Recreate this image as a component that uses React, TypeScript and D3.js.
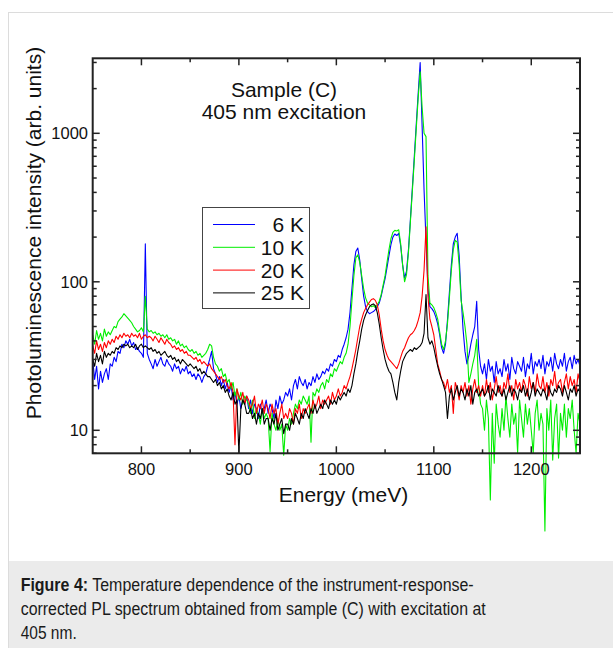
import * as d3 from 'd3'

// energy grid (meV), 2 meV steps
const energies = d3.range(750, 1251, 2)

// PL intensity, one value per energy point
const blue6K = [
  30, 22, 27, 19, 25, 21, 24, 26, 22, 28,
  27, 31, 29, 34, 33, 38, 36, 40, 38, 41,
  37, 39, 35, 36, 34, 33, 31, 180, 33, 30,
  28, 26, 30, 27, 29, 31, 28, 27, 30, 28,
  27, 25, 28, 26, 27, 24, 26, 25, 27, 24,
  25, 23, 24, 22, 24, 23, 21, 23, 24, 27,
  30, 34, 26, 24, 21, 23, 20, 22, 19, 21,
  18, 20, 16, 18, 15, 17, 14, 16, 15, 17,
  14, 16, 13, 15, 14, 12, 15, 13, 14, 16,
  13, 15, 14, 12, 16, 14, 17, 15, 16, 18,
  17, 19, 16, 20, 22, 19, 23, 21, 20, 22,
  19, 21, 20, 23, 21, 24, 22, 23, 25, 24,
  26, 25, 28, 27, 30, 29, 32, 31, 35, 38,
  42, 48, 62, 90, 130, 160, 169, 140, 105, 80,
  68, 63, 61, 62, 63, 65, 68, 72, 80, 92,
  105, 125, 150, 178, 200, 210, 205, 212, 175, 130,
  106, 118, 165, 265, 430, 700, 1150, 1870, 3000, 1120,
  415, 190, 90, 68, 66, 63, 58, 52, 44, 36,
  33, 38, 55, 85, 130, 180, 200, 212, 150, 80,
  48, 34, 28, 32, 38, 44, 50, 74, 35, 27,
  24, 28, 22, 30, 25, 27, 21, 29, 24, 26,
  23, 30, 25, 28, 22, 31, 26, 24, 29, 27,
  25, 31, 23, 28, 26, 33, 24, 29, 27, 30,
  26, 32, 24, 29, 27, 31, 25, 33, 28, 26,
  30, 27, 33, 25, 29, 31, 26, 32, 28, 30,
  27,
]

const green10K = [
  44, 38, 47, 41, 45, 40, 48, 43, 46, 44,
  47, 50, 49, 54, 56, 58, 61, 59, 57, 55,
  53, 50, 48, 46, 47, 49, 46, 80, 48, 46,
  47, 45, 46, 44, 45, 43, 44, 42, 44, 41,
  42, 40, 41, 38, 40, 37, 38, 36, 37, 35,
  34, 35, 33, 34, 32, 33, 31, 32, 33, 35,
  38, 37, 31, 28, 27, 25, 26, 23, 24, 21,
  22, 19, 21, 17, 19, 16, 18, 15, 17, 16,
  15, 13, 16, 12, 14, 13, 11, 14, 12, 13,
  12, 7.2, 13, 11, 10, 12, 10, 11, 6.8, 11,
  10, 12, 11, 13, 15, 14, 16, 15, 17, 16,
  15, 17, 8.3, 18, 17, 19, 18, 20, 21, 19,
  22, 21, 24, 23, 26, 25, 27, 29, 28, 31,
  33, 38, 50, 75, 110, 145, 152, 135, 110, 90,
  78, 72, 70, 68, 69, 67, 70, 74, 82, 95,
  110, 135, 165, 195, 215, 222, 220, 224, 180, 130,
  100, 112, 158, 255, 410, 660, 1080, 1750, 2600, 1500,
  1000, 950, 110, 72, 70, 67, 62, 56, 46, 38,
  35, 40, 52, 78, 120, 165, 190, 185, 130, 75,
  62, 50, 38, 21, 24, 28, 32, 41, 20, 15,
  14, 10, 16, 12, 3.4, 13, 6, 15, 11, 9,
  14, 10, 17, 12, 9, 15, 11, 13, 7.1, 16,
  12, 9, 15, 11, 14, 10, 7, 13, 16, 10,
  13, 11, 2.1, 14, 10, 16, 6.3, 12, 15, 6.5,
  13, 10, 15, 9, 14, 12, 16, 10, 7, 13,
  11,
]

const red20K = [
  37, 33, 40, 35, 38, 34, 39, 36, 40, 38,
  41, 39, 43, 41, 44, 42, 45, 43, 44, 42,
  45, 43, 44, 42, 45, 41, 43, 44, 42, 43,
  42, 40, 43, 41, 39, 42, 40, 38, 41, 39,
  38, 36, 37, 35, 36, 34, 35, 33, 34, 32,
  32, 31, 30, 31, 29, 30, 28, 29, 28, 27,
  28, 26, 25, 24, 23, 22, 23, 21, 22, 20,
  19, 21, 18, 8, 19, 17, 16, 18, 15, 17,
  16, 14, 15, 17, 13, 15, 14, 16, 13, 15,
  14, 12, 15, 13, 14, 11, 13, 15, 12, 13,
  12, 14, 13, 11, 14, 13, 15, 12, 14, 13,
  14, 15, 13, 16, 14, 15, 17, 14, 16, 15,
  16, 17, 15, 18, 16, 17, 19, 17, 18, 20,
  19, 21, 23, 26, 30, 35, 42, 50, 56, 62,
  66, 70, 73, 76, 77, 75, 70, 60, 48, 40,
  35, 32, 30, 29, 28, 27, 26, 28, 31, 34,
  36, 39, 42, 44, 45, 47, 50, 55, 62, 80,
  120, 235, 80, 56, 50, 44, 35, 28, 25, 22,
  21, 19, 22, 18, 20, 13, 21, 19, 16, 20,
  18, 21, 17, 20, 15, 19, 22, 18, 20, 17,
  20, 17, 22, 18, 21, 16, 19, 23, 18, 20,
  17, 21, 19, 24, 18, 20, 16, 22, 19, 21,
  18, 22, 20, 17, 23, 19, 21, 18, 24, 20,
  19, 23, 18, 21, 17, 22, 20, 25, 19, 21,
  22, 18, 21, 24, 19, 23, 20, 22, 18, 24,
  21,
]

const black25K = [
  30, 27, 33, 29, 32, 28, 34, 31, 33, 32,
  34, 33, 36, 35, 37, 36, 38, 37, 38, 36,
  37, 36, 38, 35, 37, 38, 36, 37, 36, 35,
  36, 34, 35, 33, 34, 32, 33, 34, 32, 31,
  32, 30, 31, 29, 30, 28, 30, 29, 28, 27,
  28, 27, 26, 27, 25, 26, 24, 25, 24, 23,
  23, 22, 21, 22, 20, 21, 19, 20, 18, 19,
  17, 16, 18, 15, 16, 7, 14, 16, 15, 13,
  13, 14, 12, 13, 11, 13, 12, 14, 11, 12,
  12, 10, 12, 11, 13, 10, 11, 12, 9.5, 11,
  11, 10, 12, 11, 13, 12, 11, 13, 12, 14,
  13, 12, 14, 13, 15, 13, 14, 15, 14, 16,
  15, 14, 16, 15, 16, 15, 17, 16, 17, 18,
  17, 19, 18, 20, 24, 28, 34, 40, 48, 55,
  60, 64, 68, 70, 71, 69, 62, 52, 42, 35,
  30, 27, 25, 24, 21, 18, 16, 21, 25, 29,
  31, 33, 34, 35, 34, 36, 35, 36, 37, 39,
  45, 82, 42, 38, 40, 36, 31, 27, 24, 22,
  20, 18, 12, 17, 19, 16, 18, 20, 17, 19,
  18, 16, 19, 17, 20, 15, 18, 19, 17, 18,
  19, 17, 18, 20, 16, 19, 18, 17, 20, 18,
  17, 19, 16, 18, 20, 17, 19, 18, 16, 19,
  18, 20, 17, 19, 16, 18, 21, 17, 19, 18,
  17, 19, 18, 16, 20, 18, 17, 19, 18, 20,
  19, 17, 20, 18, 16, 19, 18, 20, 17, 19,
  18,
]

const seriesNames = ['6 K', '10 K', '20 K', '25 K']
const seriesColors = ['#0000ff', '#00ee00', '#ff0000', '#000000']
const seriesValues = [blue6K, green10K, red20K, black25K]

const xMajor = [800, 900, 1000, 1100, 1200]
const xMinor = [850, 950, 1050, 1150]
const yMajor = [10, 100, 1000]
const yMinor = [7, 8, 9, 20, 30, 40, 50, 60, 70, 80, 90, 200, 300, 400, 500, 600, 700, 800, 900, 2000, 3000]

const font = '"Liberation Sans", Arial, sans-serif'

export default function App() {
  const left = 92.7
  const right = 580
  const top = 58.3
  const bottom = 453.3

  const x = d3.scaleLinear().domain([750, 1250]).range([left, right])
  const y = d3.scaleLog().domain([7, 3200]).range([bottom, top])

  const line = d3.line<number>()
    .x((_, i) => x(energies[i]))
    .y(d => y(d))

  const legendX = 202.5
  const legendY = 207.5

  return (
    <div style={{ position: 'absolute', left: 0, top: 0 }}>
      <svg width={613} height={648} style={{ display: 'block' }} fontFamily={font}>
        <rect x={0} y={0} width={613} height={648} fill="#fff" />
        {/* card border */}
        <line x1={8} x2={613} y1={12.5} y2={12.5} stroke="#dcdcdc" />
        <line x1={8.5} x2={8.5} y1={12} y2={648} stroke="#dcdcdc" />

        {/* spectra */}
        {seriesValues.map((vals, i) => (
          <path key={seriesNames[i]} d={line(vals) ?? ''} fill="none"
            stroke={seriesColors[i]} strokeWidth={1.1} strokeLinejoin="round" />
        ))}

        {/* frame */}
        <rect x={left} y={top} width={right - left} height={bottom - top}
          fill="none" stroke="#222" strokeWidth={2} />

        {/* x ticks (bottom + top, inward) */}
        {xMajor.map(v => (
          <g key={'xM' + v}>
            <line x1={x(v)} x2={x(v)} y1={bottom} y2={bottom - 7} stroke="#222" strokeWidth={1.5} />
            <line x1={x(v)} x2={x(v)} y1={top} y2={top + 7} stroke="#222" strokeWidth={1.5} />
            <text x={x(v)} y={475} textAnchor="middle" fontSize={16.5} fill="#111">{v}</text>
          </g>
        ))}
        {xMinor.map(v => (
          <g key={'xm' + v}>
            <line x1={x(v)} x2={x(v)} y1={bottom} y2={bottom - 4} stroke="#222" strokeWidth={1.5} />
            <line x1={x(v)} x2={x(v)} y1={top} y2={top + 4} stroke="#222" strokeWidth={1.5} />
          </g>
        ))}

        {/* y ticks (left + right, inward) */}
        {yMajor.map(v => (
          <g key={'yM' + v}>
            <line x1={left} x2={left + 7} y1={y(v)} y2={y(v)} stroke="#222" strokeWidth={1.5} />
            <line x1={right} x2={right - 7} y1={y(v)} y2={y(v)} stroke="#222" strokeWidth={1.5} />
            <text x={88} y={y(v) + 6} textAnchor="end" fontSize={16.5} fill="#111">{v}</text>
          </g>
        ))}
        {yMinor.map(v => (
          <g key={'ym' + v}>
            <line x1={left} x2={left + 4} y1={y(v)} y2={y(v)} stroke="#222" strokeWidth={1.5} />
            <line x1={right} x2={right - 4} y1={y(v)} y2={y(v)} stroke="#222" strokeWidth={1.5} />
          </g>
        ))}

        {/* axis titles */}
        <text x={343.5} y={501.5} textAnchor="middle" fontSize={21} fill="#111">Energy (meV)</text>
        <text transform="translate(41,233) rotate(-90)" textAnchor="middle" fontSize={21} fill="#111">
          Photoluminescence intensity (arb. units)
        </text>

        {/* annotation */}
        <text x={284} y={97} textAnchor="middle" fontSize={21} fill="#111">Sample (C)</text>
        <text x={284} y={118.5} textAnchor="middle" fontSize={21} fill="#111">405 nm excitation</text>

        {/* legend */}
        <rect x={legendX} y={legendY} width={107} height={101} fill="#fff" stroke="#444" strokeWidth={1} />
        {seriesNames.map((name, i) => {
          const cy = legendY + 17 + i * 22.8
          return (
            <g key={'lg' + name}>
              <line x1={213} x2={255} y1={cy} y2={cy} stroke={seriesColors[i]} strokeWidth={1} />
              <text x={304} y={cy + 7.5} textAnchor="end" fontSize={21} fill="#111">{name}</text>
            </g>
          )
        })}

        {/* caption */}
        <rect x={9} y={561} width={604} height={87} fill="#ebebeb" />
        <text x={20.7} y={590.5} fontSize={17.5} fill="#1a1a1a" textLength={453} lengthAdjust="spacingAndGlyphs">
          <tspan fontWeight="bold">Figure 4:</tspan> Temperature dependence of the instrument-response-
        </text>
        <text x={20.7} y={614.5} fontSize={17.5} fill="#1a1a1a" textLength={465} lengthAdjust="spacingAndGlyphs">
          corrected PL spectrum obtained from sample (C) with excitation at
        </text>
        <text x={20.7} y={638.5} fontSize={17.5} fill="#1a1a1a" textLength={56} lengthAdjust="spacingAndGlyphs">405 nm.</text>
      </svg>
    </div>
  )
}
